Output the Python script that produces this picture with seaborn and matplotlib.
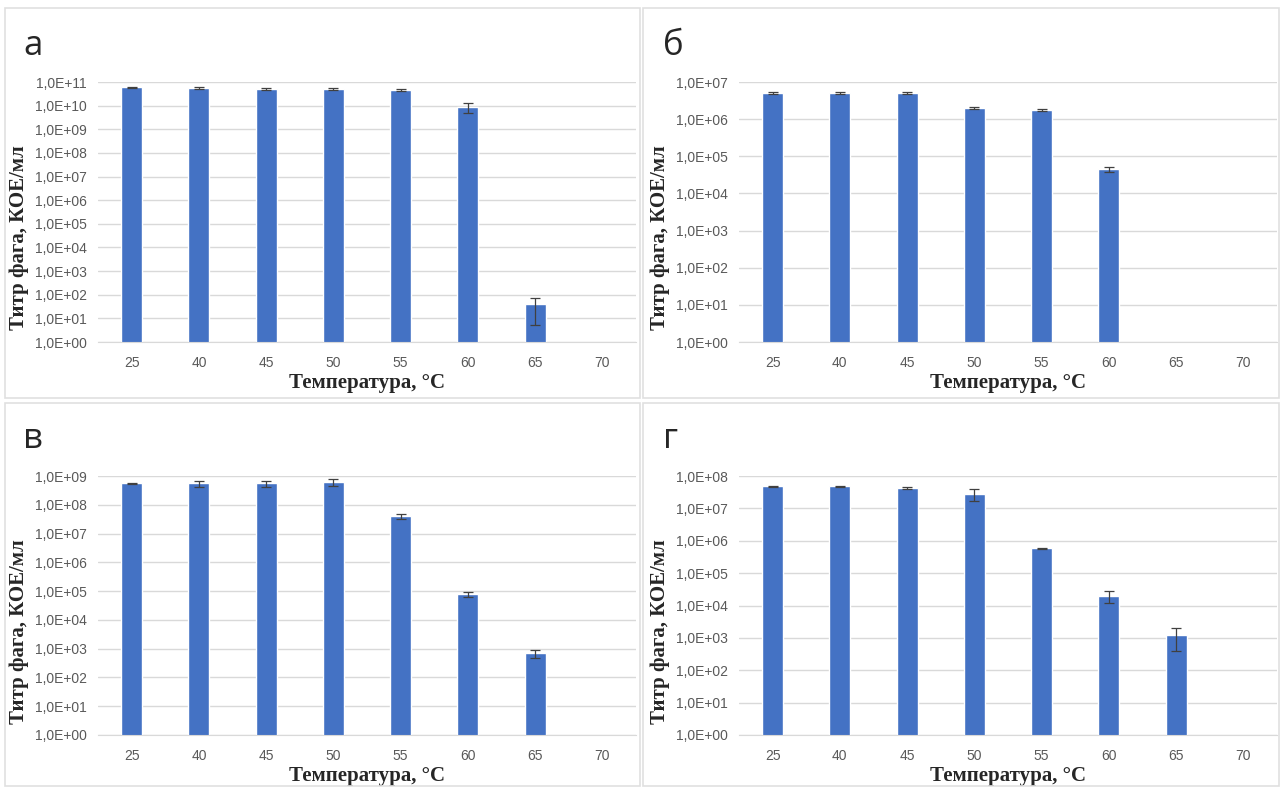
import numpy as np
import pandas as pd
import matplotlib
matplotlib.use("Agg")
import matplotlib.pyplot as plt
from matplotlib.patches import Rectangle
from matplotlib.ticker import FixedLocator, FuncFormatter, NullLocator
import seaborn as sns

# --- data ---
temps = ["25", "40", "45", "50", "55", "60", "65", "70"]

titer_a = [6.0e10, 5.5e10, 5.2e10, 5.3e10, 4.5e10, 9.0e9, 40, np.nan]
err_a = [4e9, 5e9, 4e9, 5e9, 4e9, 4.0e9, 35, np.nan]

titer_b = [5.0e6, 5.0e6, 5.0e6, 2.0e6, 1.8e6, 4.5e4, np.nan, np.nan]
err_b = [3e5, 3e5, 3e5, 1.5e5, 1.2e5, 8e3, np.nan, np.nan]

titer_v = [5.5e8, 5.5e8, 5.5e8, 6.0e8, 4.0e7, 8.0e4, 7.0e2, np.nan]
err_v = [4e7, 1.2e8, 1.2e8, 1.6e8, 9e6, 1.6e4, 2.2e2, np.nan]

titer_g = [4.8e7, 4.8e7, 4.3e7, 2.8e7, 5.8e5, 2.0e4, 1.2e3, np.nan]
err_g = [1e6, 1e6, 3e6, 1.1e7, 3e4, 8e3, 8e2, np.nan]

panel_letters = ["а", "б", "в", "г"]
ymax_exp = [11, 7, 9, 8]

bar_color = "#4472C4"
grid_color = "#D9D9D9"
tick_color = "#595959"

sns.set_style("white")
plt.rcParams["font.family"] = ["Liberation Sans", "DejaVu Sans"]

W, H = 1280, 787
fig = plt.figure(figsize=(W / 100, H / 100), dpi=100)

def px_axes(left, top, right, bottom):
    return fig.add_axes([left / W, 1 - bottom / H, (right - left) / W, (bottom - top) / H])

# panel frames
for (x0, y0, x1, y1) in [(5, 8, 640, 398), (643, 8, 1279, 398),
                         (5, 403, 640, 786), (643, 403, 1279, 786)]:
    fig.patches.append(Rectangle((x0 / W, 1 - y1 / H), (x1 - x0) / W, (y1 - y0) / H,
                                 transform=fig.transFigure, fill=False,
                                 edgecolor="#E0E0E0", linewidth=1.2))

boxes = [(98, 82, 636, 342), (739, 82, 1277, 342),
         (98, 476, 636, 735), (739, 476, 1277, 735)]
series = [(titer_a, err_a), (titer_b, err_b), (titer_v, err_v), (titer_g, err_g)]
letter_pos = [(23, 55), (663, 55), (23, 448), (663, 448)]

def sci_fmt(v, pos):
    e = int(round(np.log10(v)))
    return f"1,0E+{e:02d}"

for i, (box, (vals, errs)) in enumerate(zip(boxes, series)):
    ax = px_axes(*box)
    df = pd.DataFrame({"temp": temps, "titer": vals})
    sns.barplot(data=df, x="temp", y="titer", order=temps, color=bar_color,
                width=0.31, saturation=1, errorbar=None, ax=ax, zorder=2)
    ax.set_yscale("log")
    ax.errorbar(np.arange(len(temps)), vals, yerr=errs, fmt="none",
                ecolor="#404040", elinewidth=0.9, capsize=3.5, capthick=0.9, zorder=3)
    ax.set_ylim(1, 10 ** ymax_exp[i])
    ax.set_xlim(-0.5, len(temps) - 0.5)
    ax.yaxis.set_major_locator(FixedLocator([10 ** k for k in range(ymax_exp[i] + 1)]))
    ax.yaxis.set_minor_locator(NullLocator())
    ax.yaxis.set_major_formatter(FuncFormatter(sci_fmt))
    ax.grid(axis="y", color=grid_color, linewidth=1.0, zorder=0)
    ax.set_axisbelow(True)
    for s in ["top", "right", "left"]:
        ax.spines[s].set_visible(False)
    ax.spines["bottom"].set_color(grid_color)
    ax.tick_params(axis="both", length=0, labelsize=10, labelcolor=tick_color)
    ax.tick_params(axis="y", pad=8)
    ax.tick_params(axis="x", pad=10)
    h = box[3] - box[1]
    wdt = box[2] - box[0]
    ax.set_xlabel("Температура, °С", fontsize=15, fontweight="bold",
                  family=["Liberation Serif", "DejaVu Serif"])
    ax.set_ylabel("Титр фага, КОЕ/мл", fontsize=15, fontweight="bold",
                  family=["Liberation Serif", "DejaVu Serif"])
    ax.xaxis.set_label_coords(0.5, -31 / h)
    ax.yaxis.set_label_coords(-69 / wdt, 0.5 - 26 / h)
    lx, ly = letter_pos[i]
    fig.text(lx / W, 1 - ly / H, panel_letters[i], fontsize=25,
             family=["Open Sans", "DejaVu Sans"], ha="left", va="baseline")

fig.savefig("out.png", dpi=100)
